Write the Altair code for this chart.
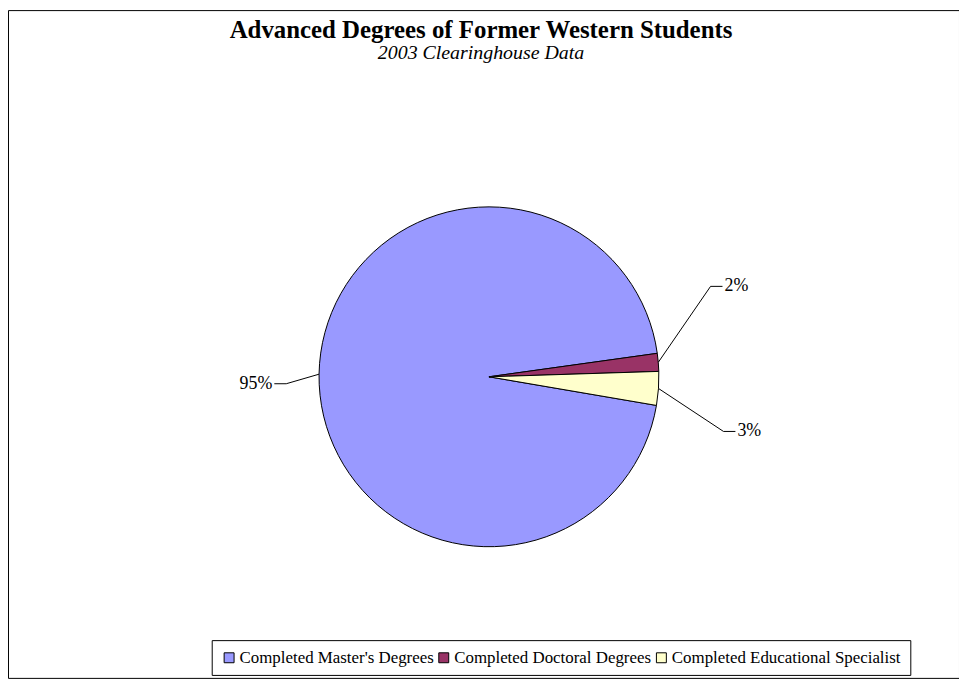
import math
import altair as alt
import pandas as pd

# ---- data ----
categories = ["Completed Master's Degrees", "Completed Doctoral Degrees", "Completed Educational Specialist"]
values = [95.1, 1.7, 3.2]          # share of advanced degrees (percent)
colors = ["#9999FF", "#993366", "#FFFFCC"]

title_text = "Advanced Degrees of Former Western Students"
subtitle_text = "2003 Clearinghouse Data"

# ---- layout (pixels, chart coordinates) ----
W, H = 957, 672
CX, CY, R = 484, 369, 171
START = math.radians(99.7)          # angle where the first slice begins
# label elbow offsets from the pie centre, and side of the label (+1 right, -1 left)
label_elbow = [(-204, 7), (223, -91), (236, 55)]
label_side = [-1, 1, 1]

df = pd.DataFrame({
    "category": categories,
    "value": values,
    "order": list(range(len(categories))),
    "ex": [CX + d[0] for d in label_elbow],
    "ey": [CY + d[1] for d in label_elbow],
    "side": label_side,
})

FONT = "Liberation Serif"

base = alt.Chart(df)

pie = base.mark_arc(stroke="black", strokeWidth=1, outerRadius=R).encode(
    theta=alt.Theta("value:Q", stack=True,
                    scale=alt.Scale(range=[START, START + 2 * math.pi])),
    color=alt.Color(
        "category:N",
        sort=categories,
        scale=alt.Scale(domain=categories, range=colors),
        legend=alt.Legend(
            title=None, orient="none", direction="horizontal", columns=3,
            legendX=205, legendY=634,
            symbolType="square", symbolSize=100,
            symbolStrokeColor="black", symbolStrokeWidth=1,
            labelFont=FONT, labelFontSize=17, labelColor="black",
            labelLimit=0, labelOffset=2, columnPadding=1,
            strokeColor="black", fillColor="white", padding=9,
        ),
    ),
    order=alt.Order("order:Q"),
    x=alt.value(CX),
    y=alt.value(CY),
)

lab = base.transform_joinaggregate(
    total="sum(value)"
).transform_window(
    cum="sum(value)", sort=[alt.SortField("order")], frame=[None, 0]
).transform_calculate(
    mid=f"{START} + 2*PI*(datum.cum - datum.value/2)/datum.total",
    pct="datum.value/datum.total",
).transform_calculate(
    x0=f"{CX} + {R}*sin(datum.mid)",
    y0=f"{CY} - {R}*cos(datum.mid)",
    hx="datum.ex + datum.side*12",
    tx="datum.ex + datum.side*14",
)

leader1 = lab.mark_rule(color="black", strokeWidth=1).encode(
    x=alt.X("x0:Q", scale=None, axis=None),
    y=alt.Y("y0:Q", scale=None, axis=None),
    x2="ex:Q", y2="ey:Q",
)
leader2 = lab.mark_rule(color="black", strokeWidth=1).encode(
    x=alt.X("ex:Q", scale=None, axis=None),
    y=alt.Y("ey:Q", scale=None, axis=None),
    x2="hx:Q", y2="ey:Q",
)
text_right = lab.transform_filter("datum.side > 0").mark_text(
    align="left", baseline="middle", font=FONT, fontSize=18, color="black"
).encode(
    x=alt.X("tx:Q", scale=None, axis=None),
    y=alt.Y("ey:Q", scale=None, axis=None),
    text=alt.Text("pct:Q", format=".0%"),
)
text_left = lab.transform_filter("datum.side < 0").mark_text(
    align="right", baseline="middle", font=FONT, fontSize=18, color="black"
).encode(
    x=alt.X("tx:Q", scale=None, axis=None),
    y=alt.Y("ey:Q", scale=None, axis=None),
    text=alt.Text("pct:Q", format=".0%"),
)

title = alt.Chart(pd.DataFrame({"t": [title_text]})).mark_text(
    font=FONT, fontSize=25, fontWeight="bold", color="black", baseline="middle"
).encode(text="t:N", x=alt.value(476), y=alt.value(20))

subtitle = alt.Chart(pd.DataFrame({"t": [subtitle_text]})).mark_text(
    font=FONT, fontSize=20, fontStyle="italic", color="black", baseline="middle"
).encode(text="t:N", x=alt.value(476), y=alt.value(43))

chart = alt.layer(pie, leader1, leader2, text_right, text_left, title, subtitle).properties(
    width=W, height=H, padding=0,
    autosize=alt.AutoSizeParams(type="none"),
).configure_view(stroke="black", strokeWidth=1)

chart.save("out.html", embed_options={"renderer": "svg", "actions": False})
